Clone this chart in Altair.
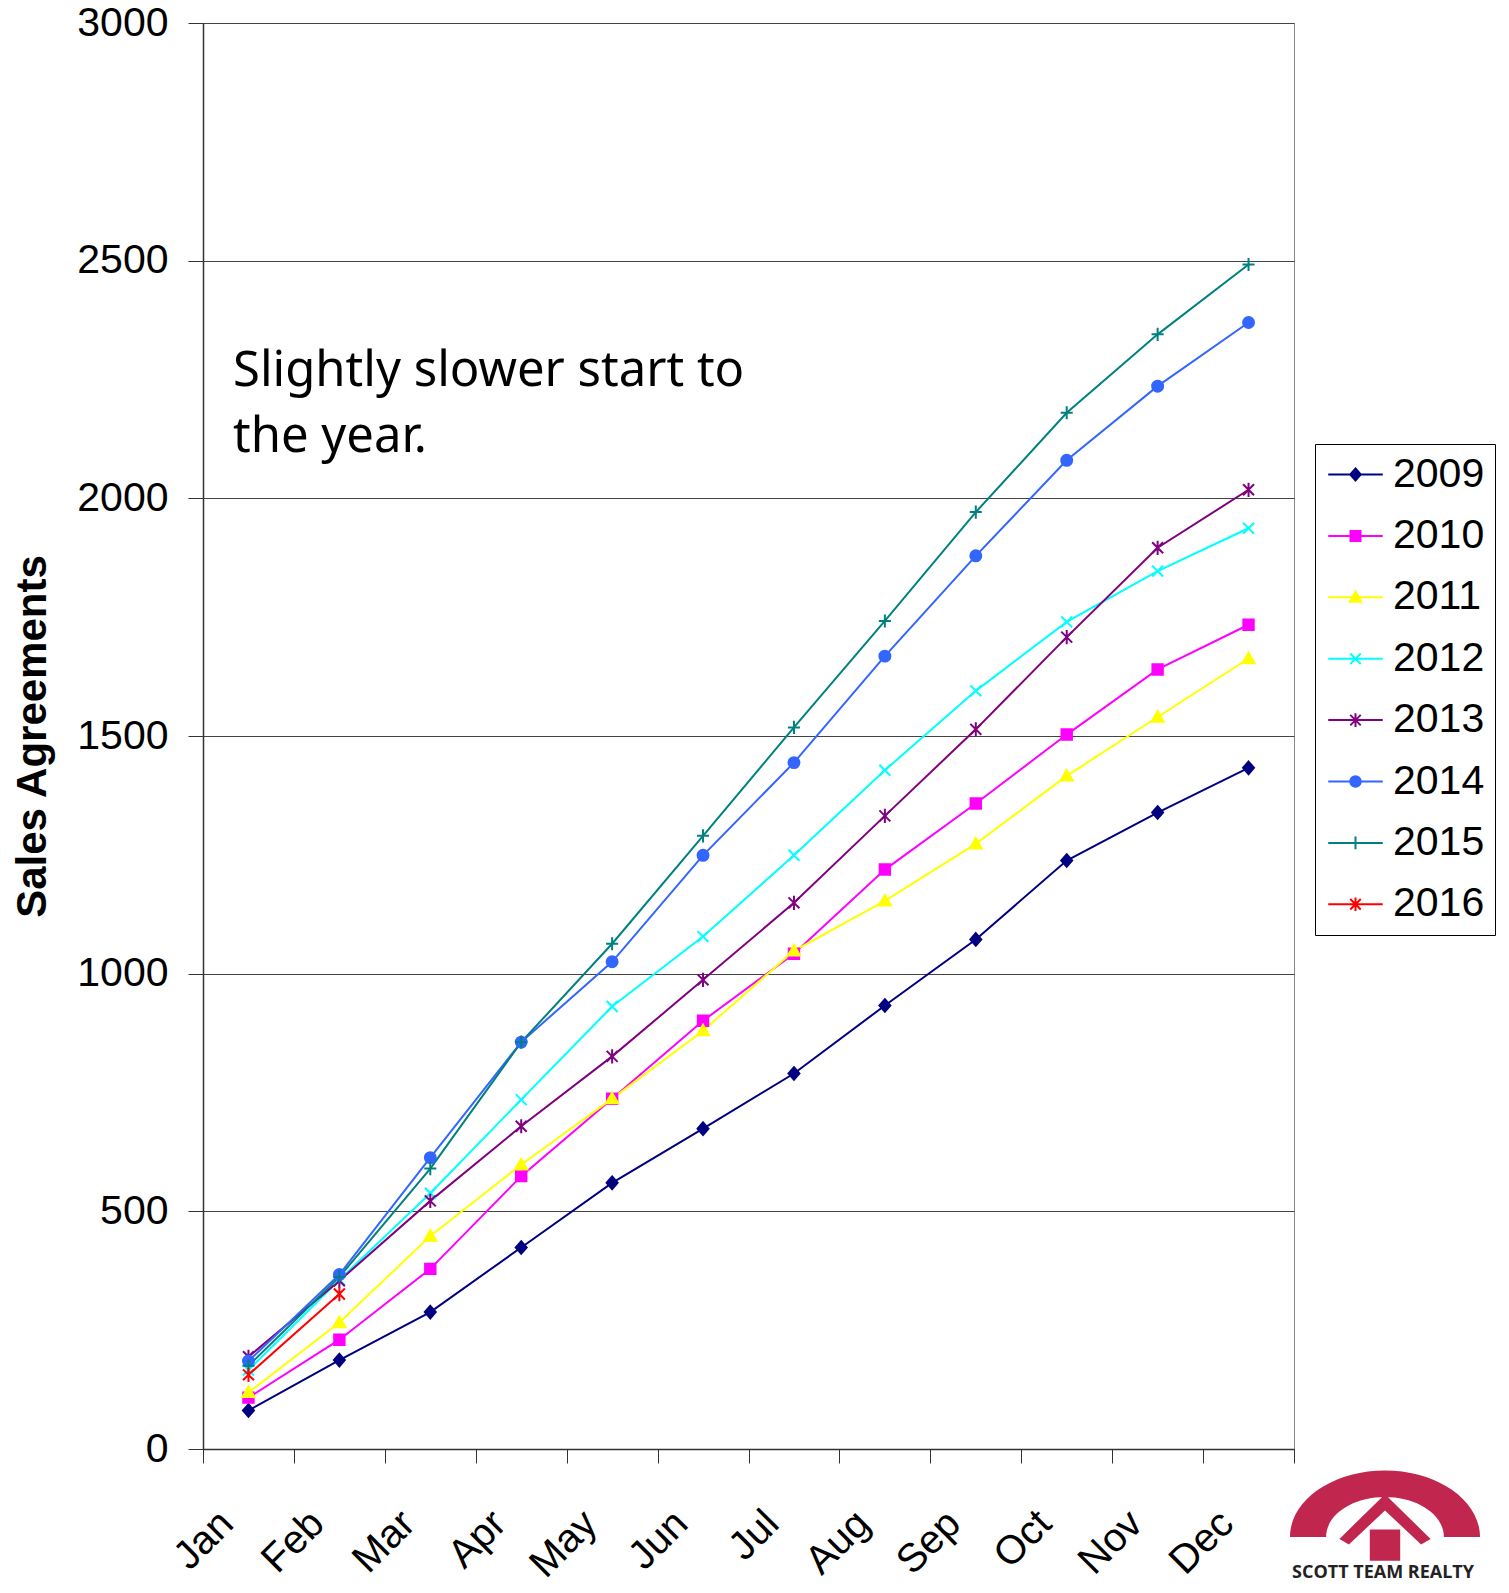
import altair as alt
import pandas as pd

months = ["Jan", "Feb", "Mar", "Apr", "May", "Jun", "Jul", "Aug", "Sep", "Oct", "Nov", "Dec"]
years = ["2009", "2010", "2011", "2012", "2013", "2014", "2015", "2016"]

s2009 = [81, 187, 288, 424, 560, 674, 790, 933, 1072, 1238, 1339, 1433]
s2010 = [108, 230, 379, 574, 737, 901, 1042, 1219, 1358, 1503, 1640, 1734]
s2011 = [119, 266, 448, 598, 737, 880, 1048, 1153, 1273, 1416, 1540, 1663]
s2012 = [166, 356, 538, 735, 931, 1078, 1249, 1428, 1595, 1740, 1847, 1937]
s2013 = [194, 354, 522, 679, 826, 987, 1149, 1332, 1514, 1708, 1896, 2018]
s2014 = [185, 367, 613, 856, 1025, 1249, 1444, 1668, 1879, 2080, 2236, 2370]
s2015 = [175, 362, 590, 856, 1063, 1290, 1518, 1742, 1971, 2180, 2345, 2492]
s2016 = [156, 326]
series = [s2009, s2010, s2011, s2012, s2013, s2014, s2015, s2016]

colors = ["#000080", "#FF00FF", "#FFFF00", "#00FFFF", "#800080", "#3366FF", "#008080", "#FF0000"]
shapes = [
    "M0,-1.15L1,0L0,1.15L-1,0Z",
    "M-0.95,-0.95L0.95,-0.95L0.95,0.95L-0.95,0.95Z",
    "M0,-1.1L1.1,0.85L-1.1,0.85Z",
    "M-1,-1L1,1M-1,1L1,-1",
    "M-1,-1L1,1M-1,1L1,-1M0,-1.3L0,1.3",
    "M-1,0A1,1,0,1,1,1,0A1,1,0,1,1,-1,0Z",
    "M-1.1,0L1.1,0M0,-1.2L0,1.2",
    "M-1,-1L1,1M-1,1L1,-1M0,-1.3L0,1.3",
]

note_lines = ["Slightly slower start to", "the year."]
logo_text = ["SCOTT TEAM REALTY"]
y_ticks = [0, 500, 1000, 1500, 2000, 2500, 3000]

logo_path = (
    "M-1,0.4A1,0.7,0,0,1,1,0.4L0.62,0.4A0.62,0.42,0,0,0,-0.62,0.4Z"
    "M-0.48,0.42L0,-0.05L0.48,0.42L0.38,0.48L0,0.12L-0.38,0.48Z"
    "M-0.16,0.32L0.16,0.32L0.16,0.65L-0.16,0.65Z"
)

rows = []
for yr, vals in zip(years, series):
    for m, v in zip(months, vals):
        rows.append({"Month": m, "Year": yr, "Value": v})
df = pd.DataFrame(rows)

color_scale = alt.Scale(domain=years, range=colors)
# same mapping, reversed order (keeps these channels out of the color legend)
stroke_scale = alt.Scale(domain=years[::-1], range=colors[::-1])
shape_scale = alt.Scale(domain=years[::-1], range=shapes[::-1])

legend = alt.Legend(
    title=None, orient="none", legendX=1112, legendY=421,
    labelFont="Liberation Sans", labelFontSize=41, labelColor="black",
    symbolSize=110, symbolStrokeWidth=2, symbolOpacity=1,
    symbolType=alt.ExprRef("'M-5.2,0L5.2,0' + scale('shape', datum.value)"),
    symbolStrokeColor=alt.ExprRef("scale('color', datum.value)"),
    symbolOffset=10, labelOffset=17, rowPadding=19.4, padding=10,
    strokeColor="black", fillColor="white",
)

x_enc = alt.X(
    "Month:N",
    sort=months,
    scale=alt.Scale(type="band", domain=months, paddingInner=0, paddingOuter=0),
    axis=alt.Axis(
        title=None, labelAngle=-45, labelAlign="right", labelBaseline="middle",
        labelFont="Liberation Sans", labelFontSize=40, labelColor="black",
        labelPadding=54, labelOffset=-22, tickBand="extent", tickSize=14,
        tickColor="#333", domainColor="#333", domainWidth=1.5, grid=False,
    ),
)
y_enc = alt.Y(
    "Value:Q",
    scale=alt.Scale(domain=[0, 3000], nice=False),
    axis=alt.Axis(
        values=y_ticks, format="d", title="Sales Agreements", titleFont="Liberation Sans",
        titleFontSize=42, titleFontWeight="bold", titleColor="black", titlePadding=22,
        labelFont="Liberation Sans", labelFontSize=41, labelColor="black",
        labelPadding=20, tickSize=15, tickColor="#333", domainColor="#333",
        domainWidth=1.5, gridColor="#444", gridWidth=1,
    ),
)

base = alt.Chart(df)
lines = base.mark_line(strokeWidth=2).encode(
    x=x_enc, y=y_enc,
    color=alt.Color("Year:N", scale=color_scale, legend=legend),
    detail="Year:N",
)
points = base.mark_point(filled=True, opacity=1, size=120, strokeWidth=2).encode(
    x=x_enc, y=y_enc,
    color=alt.Color("Year:N", scale=color_scale, legend=legend),
    stroke=alt.Stroke("Year:N", scale=stroke_scale, legend=None),
    shape=alt.Shape("Year:N", scale=shape_scale, legend=None),
)

note = alt.Chart(pd.DataFrame({"t": ["\n".join(note_lines)]})).mark_text(
    align="left", baseline="alphabetic", font="Noto Sans", fontSize=49,
    lineHeight=66, lineBreak="\n", color="black",
).encode(x=alt.value(30), y=alt.value(363), text="t:N")

logo_mark = alt.Chart(pd.DataFrame({"t": logo_text})).mark_point(
    shape=logo_path, filled=True, size=36100, color="#C1264F", opacity=1, strokeWidth=0,
).encode(x=alt.value(1182), y=alt.value(1476))

logo = alt.Chart(pd.DataFrame({"t": logo_text})).mark_text(
    align="center", baseline="alphabetic", font="Open Sans", fontSize=18,
    fontWeight="bold", color="#222",
).encode(x=alt.value(1180), y=alt.value(1555), text="t:N")

chart = alt.layer(lines, points, note, logo_mark, logo).properties(
    width=1091, height=1426,
    autosize=alt.AutoSizeParams(type="none"),
    padding={"left": 195, "top": 15, "right": 206, "bottom": 136},
).configure_view(stroke="#888", strokeWidth=1)

chart.save("out.html", embed_options={"renderer": "svg", "actions": False})
